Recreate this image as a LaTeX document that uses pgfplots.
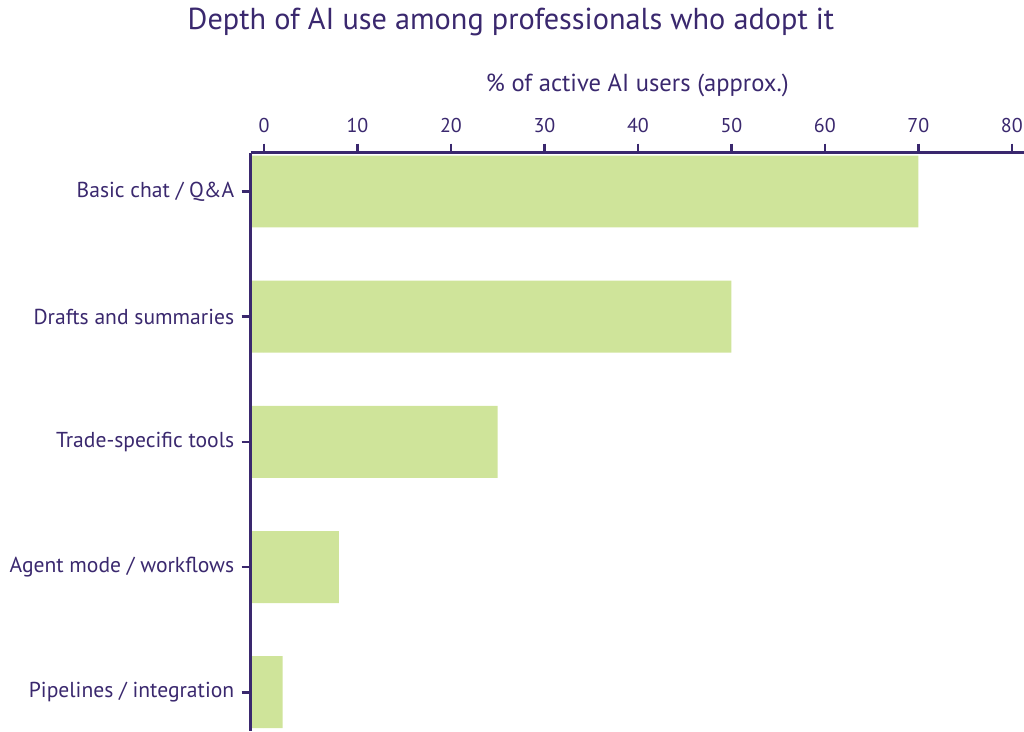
\documentclass[border=0pt]{standalone}
\usepackage{pgfplots}
\pgfplotsset{compat=1.18}
\usepackage{fontspec}
\setmainfont{PT Sans}

\definecolor{ink}{RGB}{58,40,110}
\definecolor{barfill}{RGB}{207,228,154}

\begin{document}
\begin{tikzpicture}
% overall canvas: 250.7pt of label room on the left, 152.7pt above the axis
\useasboundingbox (-250.7pt,0pt) rectangle (773.3pt,731pt);
\begin{axis}[
  at={(0,0)}, anchor=south west,
  scale only axis,
  width=773.3pt, height=578.3pt,
  xmin=-1.42, xmax=81.3,
  ymin=-0.31, ymax=4.31,
  y dir=reverse,
  axis on top,
  axis x line*=top,
  axis y line*=left,
  axis line style={-, line width=2.7pt, color=ink},
  xtick={0,10,...,80},
  ytick={0,1,2,3,4},
  yticklabels={Basic chat / Q\&A, Drafts and summaries, Trade-specific tools, Agent mode / workflows, Pipelines / integration},
  tick align=outside,
  major tick length=9pt,
  tick style={line width=2.7pt, color=ink},
  xticklabel pos=right,
  /pgf/number format/assume math mode=true,
  ticklabel style={font=\fontsize{20}{24}\selectfont, text=ink},
  xticklabel style={yshift=7pt},
  yticklabel style={font=\fontsize{21.6}{26}\selectfont, text=ink, xshift=-4pt},
  title={Depth of AI use among professionals who adopt it},
  title style={at={(rel axis cs:0.3366,1)}, anchor=center, yshift=124.7pt,
    font=\fontsize{30.3}{36}\selectfont, text=ink},
  xlabel={\% of active AI users (approx.)},
  xlabel style={at={(rel axis cs:0.5,1)}, anchor=center, yshift=67.7pt,
    font=\fontsize{24.6}{28}\selectfont, text=ink},
  xbar, bar width=0.575, bar shift=0pt,
]
% share of active users at each depth of use
\addplot[fill=barfill, draw=none] coordinates {
  (70,0) (50,1) (25,2) (8,3) (2,4)
};
% bars run back to the left axis line
\addplot[fill=barfill, draw=none] coordinates {
  (-1.42,0) (-1.42,1) (-1.42,2) (-1.42,3) (-1.42,4)
};
\end{axis}
\end{tikzpicture}
\end{document}
